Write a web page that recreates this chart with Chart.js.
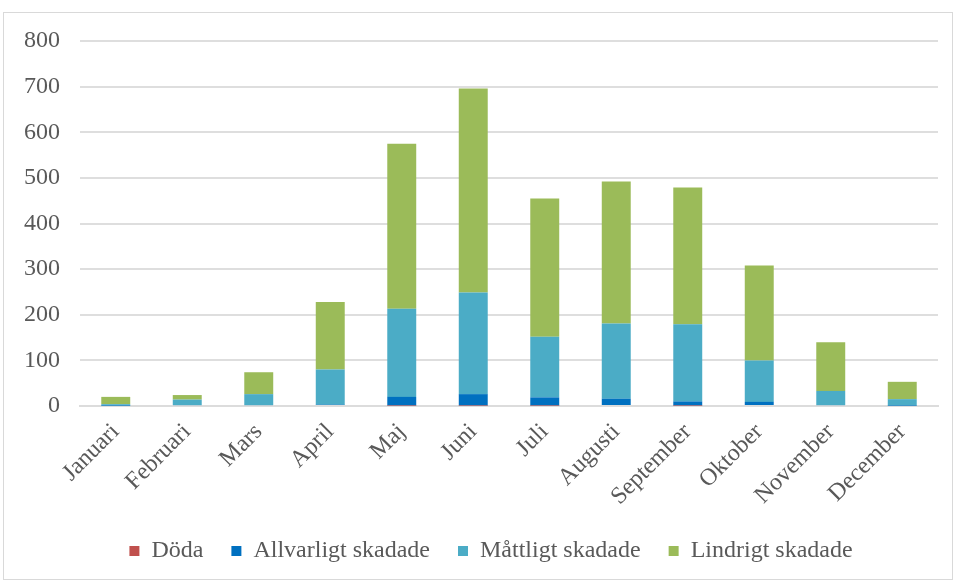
<!DOCTYPE html>
<html>
<head>
<meta charset="utf-8">
<script src="https://cdn.jsdelivr.net/npm/chart.js@4/dist/chart.umd.min.js"></script>
<style>
  html, body { margin: 0; padding: 0; background: #fff; }
  #wrap { position: absolute; left: 3px; top: 12px; width: 950px; height: 568px; border: 1px solid #d9d9d9; box-sizing: border-box; }
  canvas { display: block; }
</style>
</head>
<body>
<div id="wrap"><canvas id="c" width="948" height="566"></canvas></div>
<script>
const months = ["Januari","Februari","Mars","April","Maj","Juni","Juli","Augusti","September","Oktober","November","December"];
const doda        = [0, 0, 0, 0, 1, 1, 1, 0, 1, 0, 0, 0];
const allvarligt  = [1, 2, 2, 3, 19, 25, 18, 16, 9, 9, 2, 1];
const mattligt    = [3, 12, 24, 77, 193, 223, 133, 165, 169, 91, 31, 14];
const lindrigt    = [16, 10, 48, 148, 362, 447, 303, 311, 300, 208, 107, 38];
const yTicks = [0, 100, 200, 300, 400, 500, 600, 700, 800];

const font = { family: "'Liberation Serif', 'Times New Roman', serif", size: 24 };
const txt = '#595959';

const shiftLegend = {
  id: 'shiftLegend',
  afterLayout(chart) { if (chart.legend) chart.legend.left += 40; }
};

new Chart(document.getElementById('c'), {
  type: 'bar',
  data: {
    labels: months,
    datasets: [
      { label: 'Döda', data: doda, backgroundColor: '#C0504D' },
      { label: 'Allvarligt skadade', data: allvarligt, backgroundColor: '#0070C0' },
      { label: 'Måttligt skadade', data: mattligt, backgroundColor: '#4BACC6' },
      { label: 'Lindrigt skadade', data: lindrigt, backgroundColor: '#9BBB59' }
    ]
  },
  plugins: [shiftLegend],
  options: {
    responsive: false,
    animation: false,
    categoryPercentage: 0.45,
    barPercentage: 0.9,
    layout: { padding: { top: 28, right: 14, bottom: 6, left: 0 } },
    plugins: {
      legend: {
        position: 'bottom',
        labels: { font: font, color: txt, boxWidth: 10, boxHeight: 10, padding: 28 }
      },
      tooltip: { enabled: false }
    },
    scales: {
      x: {
        stacked: true,
        grid: { display: false, drawTicks: false },
        border: { color: '#dcdcdc', width: 2 },
        ticks: { font: font, color: txt, minRotation: 45, maxRotation: 45, padding: 12, autoSkip: false },
        afterFit: s => { s.height = 105; }
      },
      y: {
        stacked: true,
        min: 0, max: 800,
        afterBuildTicks: s => { s.ticks = yTicks.map(v => ({ value: v })); },
        grid: { color: '#dedede', lineWidth: 2, drawTicks: false },
        border: { display: false },
        ticks: { font: font, color: txt, padding: 20 },
        afterFit: s => { s.width = 76; s.paddingTop = 0; s.paddingBottom = 0; }
      }
    }
  }
});
</script>
</body>
</html>
